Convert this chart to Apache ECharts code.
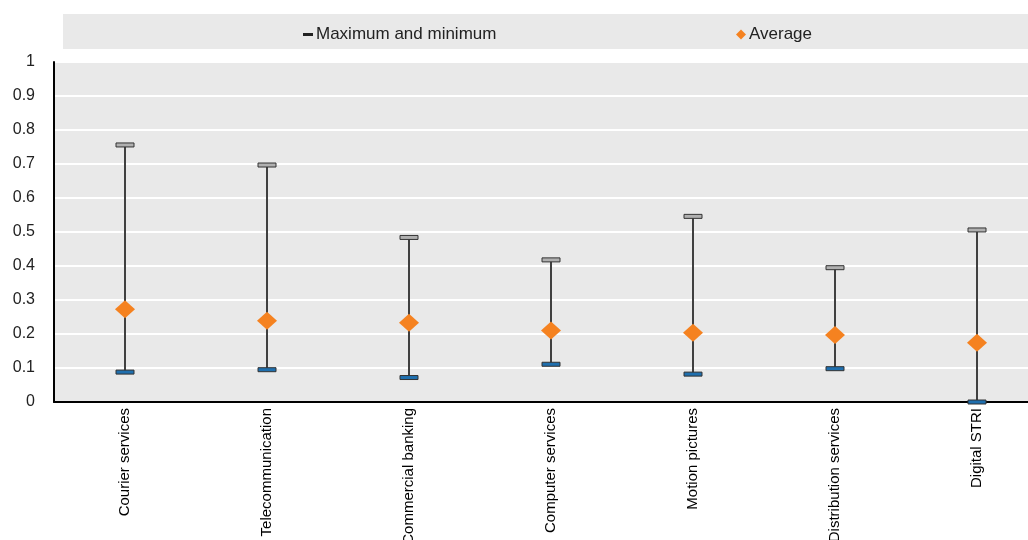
<!DOCTYPE html>
<html>
<head>
<meta charset="utf-8">
<script src="https://cdn.jsdelivr.net/npm/echarts@6/dist/echarts.min.js"></script>
<style>
  html, body { margin: 0; padding: 0; background: #fff; }
  #chart { width: 1028px; height: 540px; }
</style>
</head>
<body>
<div id="chart"></div>
<script>
// Sector scores: range (min–max) and average
const categories = ['Courier services', 'Telecommunication', 'Commercial banking', 'Computer services', 'Motion pictures', 'Distribution services', 'Digital STRI'];
const maxValues = [0.756, 0.697, 0.484, 0.418, 0.546, 0.395, 0.506];
const minValues = [0.088, 0.095, 0.072, 0.111, 0.082, 0.098, 0.0];
const avgValues = [0.273, 0.239, 0.233, 0.210, 0.204, 0.197, 0.174];
const yTicks = [0, 0.1, 0.2, 0.3, 0.4, 0.5, 0.6, 0.7, 0.8, 0.9, 1];

const FONT = "'Liberation Sans', Arial, sans-serif";
const NARROW = "'Liberation Sans Narrow', 'Arial Narrow', 'Liberation Sans', Arial, sans-serif";

const rangeData = categories.map((c, i) => [i, minValues[i], maxValues[i]]);

const chart = echarts.init(document.getElementById('chart'), null, { renderer: 'canvas' });

chart.setOption({
  animation: false,
  backgroundColor: '#ffffff',
  graphic: [{
    type: 'rect',
    left: 63, top: 14, z: -10,
    shape: { width: 965, height: 35 },
    style: { fill: '#e9e9e9' },
    silent: true
  }],
  legend: [{
    data: [{ name: 'Maximum and minimum', icon: 'rect' }],
    left: 298, top: 21,
    itemWidth: 10, itemHeight: 3, itemGap: 0,
    textStyle: { fontFamily: NARROW, fontSize: 17, color: '#222', padding: [0, 0, 0, -2] },
    selectedMode: false
  }, {
    data: [{ name: 'Average', icon: 'diamond' }],
    left: 731, top: 21,
    itemWidth: 10, itemHeight: 10,
    textStyle: { fontFamily: NARROW, fontSize: 17, color: '#222', padding: [0, 0, 0, -2] },
    selectedMode: false
  }],
  grid: {
    left: 54, top: 62, width: 994, height: 340,
    outerBoundsMode: 'none',
    containLabel: false,
    show: true, backgroundColor: '#e9e9e9', borderWidth: 0
  },
  xAxis: {
    type: 'category',
    data: categories,
    boundaryGap: true,
    axisLine: { show: true, lineStyle: { color: '#000', width: 2 } },
    axisTick: { show: false },
    axisLabel: {
      rotate: 90, interval: 0, margin: 6,
      fontFamily: FONT, fontSize: 15, color: '#000'
    },
    splitLine: { show: false }
  },
  yAxis: {
    type: 'value',
    min: 0, max: 1, interval: 0.1,
    axisLine: { show: true, lineStyle: { color: '#000', width: 2 } },
    axisTick: { show: false },
    axisLabel: {
      margin: 19, fontFamily: FONT, fontSize: 16, color: '#222',
      formatter: v => {
        const t = yTicks.find(k => Math.abs(k - v) < 1e-9);
        return String(t !== undefined ? t : +v.toFixed(1));
      }
    },
    splitLine: { show: true, lineStyle: { color: '#ffffff', width: 2 } }
  },
  series: [{
    name: 'Maximum and minimum',
    type: 'custom',
    itemStyle: { color: '#222' },
    data: rangeData,
    encode: { x: 0, y: [1, 2] },
    z: 3,
    renderItem: (params, api) => {
      const lo = api.coord([api.value(0), api.value(1)]);
      const hi = api.coord([api.value(0), api.value(2)]);
      const half = 9;
      return {
        type: 'group',
        children: [{
          type: 'line',
          shape: { x1: hi[0], y1: hi[1], x2: lo[0], y2: lo[1] },
          style: { stroke: '#404040', lineWidth: 2 }
        }, {
          type: 'rect',
          shape: { x: hi[0] - half, y: hi[1] - 2, width: half * 2, height: 4 },
          style: { fill: '#b0b0b0', stroke: '#333333', lineWidth: 1 }
        }, {
          type: 'rect',
          shape: { x: lo[0] - half, y: lo[1] - 2, width: half * 2, height: 4 },
          style: { fill: '#1f6fae', stroke: '#333333', lineWidth: 1 }
        }]
      };
    }
  }, {
    name: 'Average',
    type: 'scatter',
    data: avgValues,
    symbol: 'diamond',
    symbolSize: [20, 18],
    itemStyle: { color: '#f58220', opacity: 1 },
    z: 4
  }]
});
</script>
</body>
</html>
